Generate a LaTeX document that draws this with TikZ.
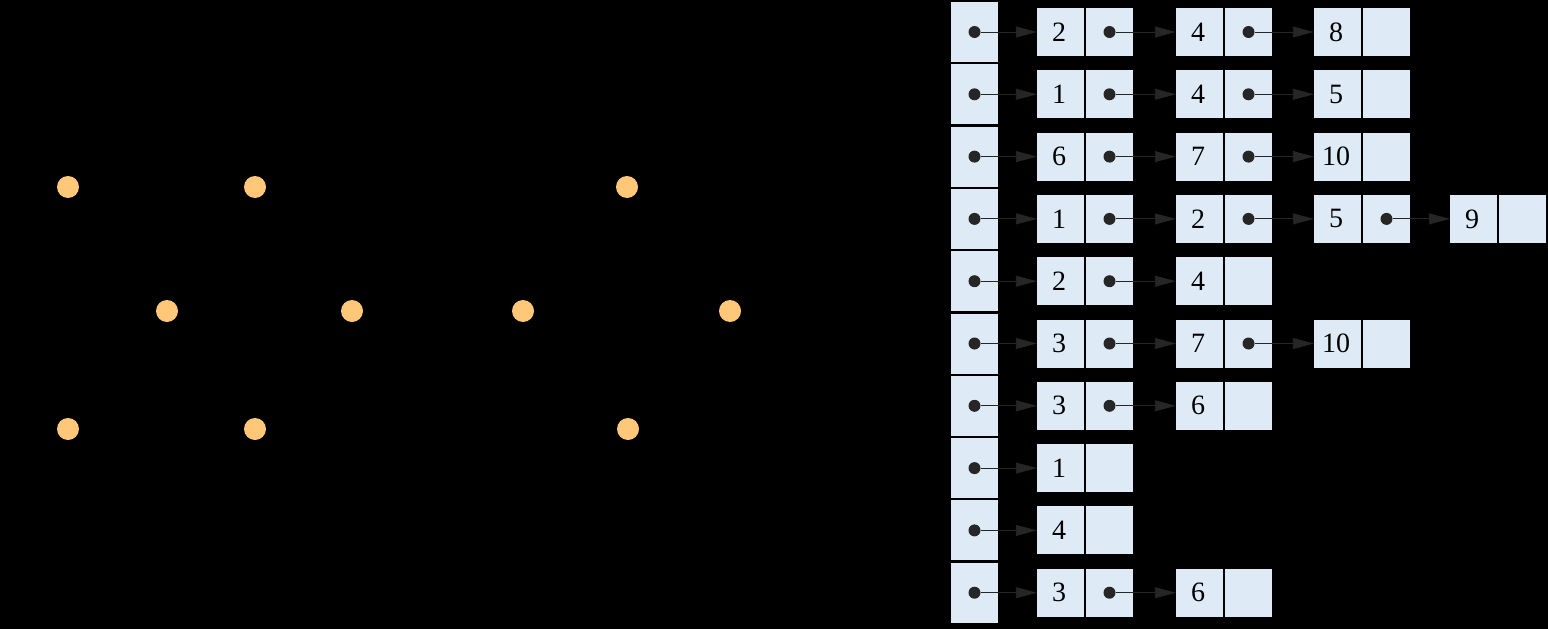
\documentclass[tikz,border=0pt]{standalone}
\usepackage{fontspec}
\setmainfont{Liberation Serif}
\usetikzlibrary{arrows.meta}
\definecolor{cellblue}{RGB}{222,235,247}
\definecolor{dotorange}{RGB}{255,199,120}
\definecolor{ptr}{RGB}{38,38,38}
\begin{document}
\begin{tikzpicture}[x=1pt,y=-1pt,
  cell/.style={fill=cellblue, draw=none, inner sep=0pt, minimum width=47pt, minimum height=48pt, font=\fontsize{28}{30}\selectfont},
  headcell/.style={fill=cellblue, draw=none, inner sep=0pt, minimum width=47pt, minimum height=60pt},
  vertex/.style={circle, fill=dotorange, draw=none, inner sep=0pt, minimum size=22pt},
  ptrdot/.style={circle, fill=ptr, draw=none, inner sep=0pt, minimum size=12pt},
  link/.style={draw=ptr, line width=0.9pt, -{Triangle[length=21pt,width=11pt]}}]
\useasboundingbox (0,0) rectangle (1548,629);
\fill[black] (0,0) rectangle (1548,629);
% graph vertices
\node[vertex] (n1) at (68,187) {};
\node[vertex] (n2) at (255,187) {};
\node[vertex] (n3) at (627,187) {};
\node[vertex] (n4) at (167,311) {};
\node[vertex] (n5) at (352,311) {};
\node[vertex] (n6) at (523,311) {};
\node[vertex] (n7) at (730,311) {};
\node[vertex] (n8) at (68,429) {};
\node[vertex] (n9) at (255,429) {};
\node[vertex] (n10) at (628,429) {};
% adjacency lists
\foreach \r/\lst in {1/{2,4,8},2/{1,4,5},3/{6,7,10},4/{1,2,5,9},5/{2,4},6/{3,7,10},7/{3,6},8/{1},9/{4},10/{3,6}}{
  \pgfmathsetmacro\yc{32+(\r-1)*62.3}
  \node[headcell] (h-\r) at (974.5,\yc) {};
  \node[ptrdot] (d-\r-0) at (h-\r.center) {};
  \foreach \v [count=\k] in \lst {
    \pgfmathsetmacro\xx{{1037,1176,1314,1450}[\k-1]}
    \pgfmathtruncatemacro\km{\k-1}
    \node[cell] (v-\r-\k) at (\xx+23.5,\yc) {\hspace*{-3pt}\v};
    \node[cell] (p-\r-\k) at (\xx+72.5,\yc) {};
    \ifnum\k>1 \node[ptrdot] (d-\r-\km) at (p-\r-\km.center) {};\fi
    \draw[link] (d-\r-\km.east) -- (v-\r-\k.west);
  }
}
\end{tikzpicture}
\end{document}
